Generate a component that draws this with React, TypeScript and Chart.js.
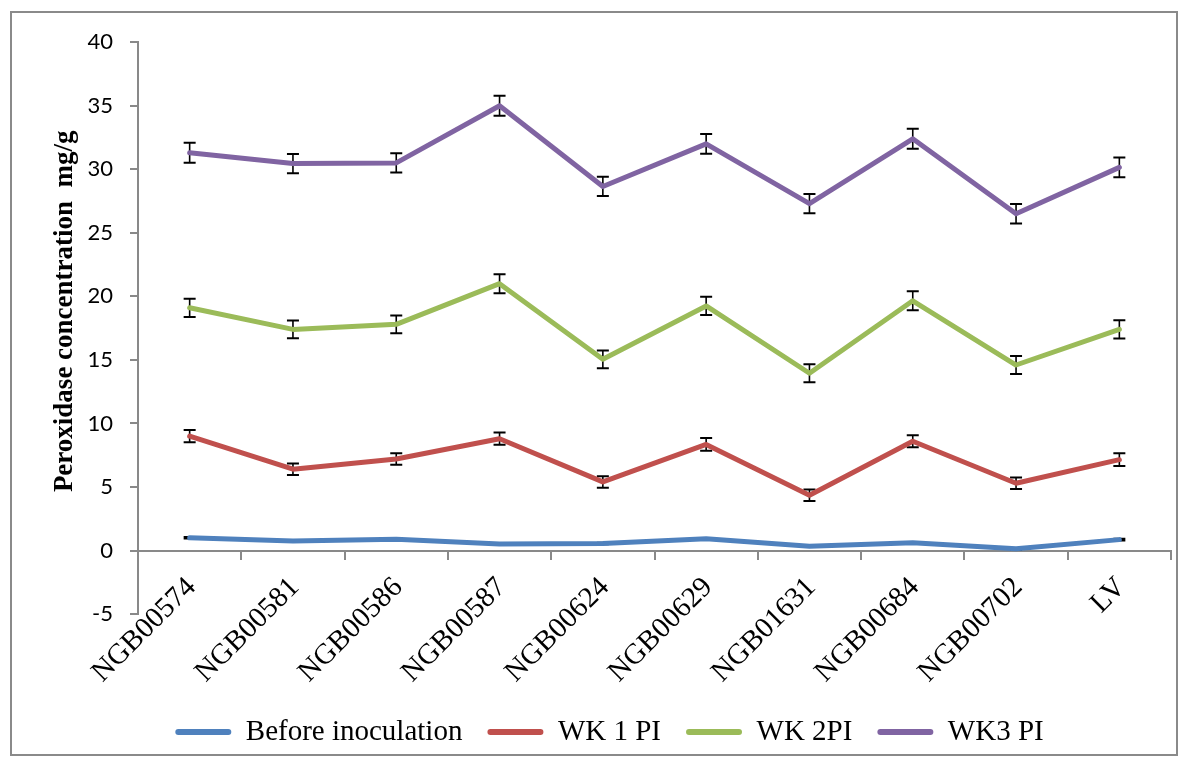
import React, { useEffect, useRef } from "react";
import { Chart, registerables } from "chart.js";

Chart.register(...registerables);

const categories = [
  "NGB00574",
  "NGB00581",
  "NGB00586",
  "NGB00587",
  "NGB00624",
  "NGB00629",
  "NGB01631",
  "NGB00684",
  "NGB00702",
  "LV",
];

const seriesNames = ["Before inoculation", "WK 1 PI", "WK 2PI", "WK3 PI"];
const seriesColors = ["#4F81BD", "#C0504D", "#9BBB59", "#8064A2"];

const beforeInoculation = [1.0, 0.75, 0.88, 0.52, 0.56, 0.92, 0.33, 0.62, 0.15, 0.86];
const wk1 = [9.0, 6.4, 7.2, 8.8, 5.4, 8.35, 4.35, 8.6, 5.3, 7.15];
const wk2 = [19.1, 17.4, 17.8, 21.0, 15.05, 19.25, 13.95, 19.65, 14.6, 17.4];
const wk3 = [31.3, 30.45, 30.5, 35.0, 28.65, 32.0, 27.3, 32.4, 26.5, 30.15];

const errBefore = [0.06, 0.06, 0.06, 0.06, 0.06, 0.06, 0.06, 0.06, 0.06, 0.06];
const errWk1 = [0.48, 0.45, 0.45, 0.48, 0.45, 0.5, 0.45, 0.48, 0.45, 0.5];
const errWk2 = [0.72, 0.7, 0.7, 0.75, 0.7, 0.72, 0.7, 0.75, 0.7, 0.72];
const errWk3 = [0.78, 0.76, 0.76, 0.78, 0.76, 0.78, 0.76, 0.78, 0.76, 0.78];

const yMin = -5;
const yMax = 40;
const yStep = 5;

const yTitle = "     Peroxidase concentration  mg/g";

const allSeries = [beforeInoculation, wk1, wk2, wk3];
const allErrors = [errBefore, errWk1, errWk2, errWk3];

const serif = '"Liberation Serif", "Times New Roman", serif';

const errorBarPlugin = {
  id: "errorBars",
  beforeDatasetsDraw(chart: any) {
    const { ctx } = chart;
    const yScale = chart.scales.y;
    ctx.save();
    ctx.strokeStyle = "#000";
    chart.data.datasets.forEach((ds: any, di: number) => {
      const meta = chart.getDatasetMeta(di);
      const errs = allErrors[di];
      meta.data.forEach((pt: any, i: number) => {
        const v = ds.data[i];
        const e = errs[i];
        const x = pt.x;
        const yt = yScale.getPixelForValue(v + e);
        const yb = yScale.getPixelForValue(v - e);
        const hw = 6;
        ctx.lineWidth = 1.6;
        ctx.beginPath();
        ctx.moveTo(x, yt);
        ctx.lineTo(x, yb);
        ctx.stroke();
        ctx.lineWidth = 2;
        ctx.beginPath();
        ctx.moveTo(x - hw, yt);
        ctx.lineTo(x + hw, yt);
        ctx.moveTo(x - hw, yb);
        ctx.lineTo(x + hw, yb);
        ctx.stroke();
      });
    });
    ctx.restore();
  },
};

export default function App() {
  const canvasRef = useRef<HTMLCanvasElement | null>(null);

  useEffect(() => {
    if (!canvasRef.current) return;
    const chart = new Chart(canvasRef.current, {
      type: "line",
      data: {
        labels: categories,
        datasets: allSeries.map((data, i) => ({
          label: seriesNames[i],
          data,
          borderColor: seriesColors[i],
          backgroundColor: seriesColors[i],
          borderWidth: 5,
          pointRadius: 0,
          pointHoverRadius: 0,
          tension: 0,
          fill: false,
          borderJoinStyle: "round",
          borderCapStyle: "round",
        })),
      },
      options: {
        responsive: false,
        animation: false,
        events: [],
        layout: { padding: { left: 36, right: 5, top: 29.7, bottom: 5.5 } },
        scales: {
          x: {
            type: "category",
            offset: true,
            position: { y: 0 } as any,
            grid: {
              display: true,
              offset: true,
              drawOnChartArea: false,
              drawTicks: true,
              tickLength: 8,
              color: "#898989",
              lineWidth: 2,
            },
            border: { display: true, color: "#898989", width: 2 },
            ticks: {
              minRotation: 45,
              maxRotation: 45,
              autoSkip: false,
              padding: 12,
              labelOffset: 2,
              color: "#000",
              font: { family: serif, size: 29 },
            },
          },
          y: {
            min: yMin,
            max: yMax,
            ticks: {
              stepSize: yStep,
              padding: 17,
              color: "#000",
              font: { family: "Lato, 'Open Sans', sans-serif", size: 22 },
            },
            grid: {
              drawOnChartArea: false,
              drawTicks: true,
              tickLength: 8,
              color: "#898989",
              lineWidth: 2,
            },
            border: { display: true, color: "#898989", width: 2 },
            title: {
              display: true,
              text: yTitle,
              color: "#000",
              font: { family: serif, size: 27, weight: "bold" },
              padding: { top: 1, bottom: 0 },
            },
            afterFit: (s: any) => {
              s.width = 90;
            },
          },
        },
        plugins: {
          tooltip: { enabled: false },
          legend: {
            position: "bottom",
            title: {
              display: true,
              text: "",
              padding: { top: 64, bottom: 0 },
              font: { size: 12 },
            },
            labels: {
              boxWidth: 56,
              boxHeight: 6,
              padding: 25,
              color: "#000",
              font: { family: serif, size: 29 },
              useBorderRadius: true,
              borderRadius: 3,
              generateLabels: (c: any) =>
                Chart.defaults.plugins.legend.labels
                  .generateLabels(c)
                  .map((l: any) => ({ ...l, fillStyle: l.strokeStyle, lineWidth: 0 })),
            },
          },
        },
      } as any,
      plugins: [errorBarPlugin],
    });
    return () => chart.destroy();
  }, []);

  return (
    <div style={{ position: "relative", width: 1180, height: 750 }}>
      <div
        style={{
          position: "absolute",
          left: 2,
          top: 3,
          width: 1168,
          height: 745,
          boxSizing: "border-box",
          border: "2px solid #8a8a8a",
        }}
      />
      <canvas
        ref={canvasRef}
        width={1164}
        height={750}
        style={{ position: "absolute", left: 4, top: 4, width: 1164, height: 750 }}
      />
    </div>
  );
}
